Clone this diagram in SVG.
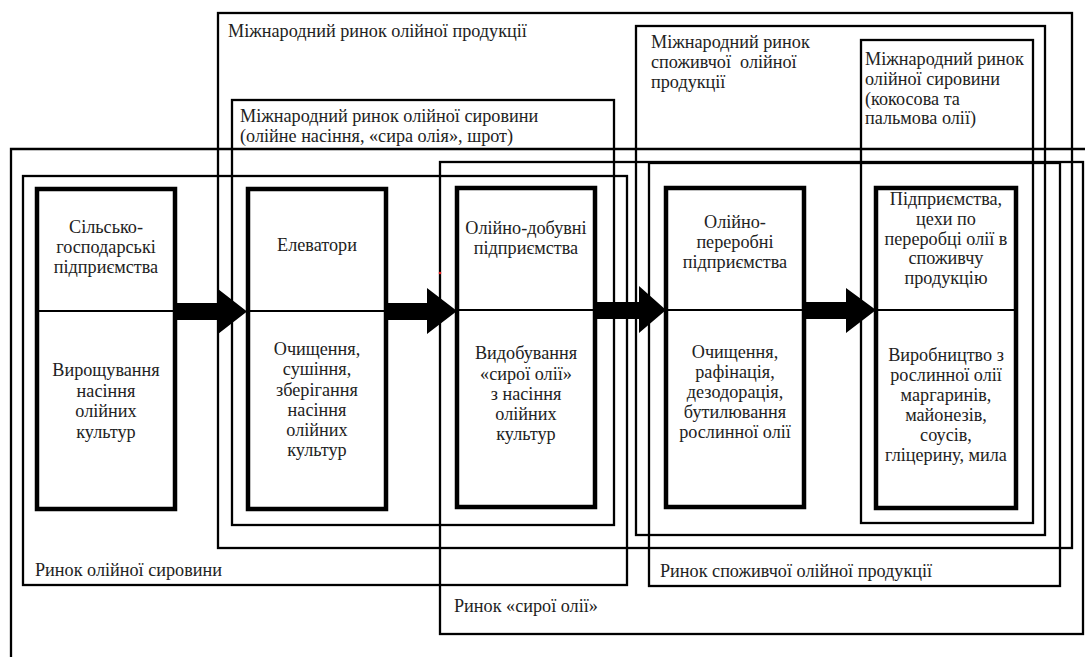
<svg xmlns="http://www.w3.org/2000/svg" width="1085" height="657" viewBox="0 0 1085 657">
<style>
.frame{fill:none;stroke:#000;stroke-width:2.3}
.box{fill:none;stroke:#000;stroke-width:4.5}
.div{stroke:#000;stroke-width:2}
.arrow{fill:#000;stroke:none}
.c{text-anchor:middle}
</style>
<rect width="1085" height="657" fill="#fff"/>
<g font-family="Liberation Serif, DejaVu Serif, serif" font-size="18.2" fill="#222">
<g id="markets">
  <g id="outer"><path class="frame" d="M1090,149 H11 V662"/></g>
  <g id="intl-oil-products"><rect class="frame" x="218" y="13" width="854" height="535"/>
    <text x="228" y="37">Міжнародний ринок олійної продукції</text></g>
  <g id="intl-raw"><rect class="frame" x="232" y="100" width="382" height="425"/>
    <text x="240" y="122">Міжнародний ринок олійної сировини</text>
    <text x="240" y="142">(олійне насіння, «сира олія», шрот)</text></g>
  <g id="intl-consumer"><rect class="frame" x="636" y="26" width="409" height="509"/>
    <text x="651" y="48">Міжнародний ринок</text>
    <text x="651" y="68">споживчої&#160; олійної</text>
    <text x="651" y="88">продукції</text></g>
  <g id="intl-coconut"><rect class="frame" x="861" y="40" width="172" height="483"/>
    <text x="865" y="65">Міжнародний ринок</text>
    <text x="865" y="85">олійної сировини</text>
    <text x="865" y="105">(кокосова та</text>
    <text x="865" y="124">пальмова олії)</text></g>
  <g id="raw-market"><rect class="frame" x="23" y="176" width="604" height="409"/>
    <text x="35" y="576">Ринок олійної сировини</text></g>
  <g id="crude-oil-market"><rect class="frame" x="440" y="162" width="643" height="472"/>
    <text x="454" y="612">Ринок «сирої олії»</text></g>
  <g id="consumer-market"><rect class="frame" x="649" y="163" width="411" height="423"/>
    <text x="660" y="577">Ринок споживчої олійної продукції</text></g>
</g>
<g id="n1">
  <rect class="box" x="37" y="189" width="138" height="320"/>
  <line class="div" x1="37" y1="311" x2="175" y2="311"/>
  <text class="c" x="106" y="233">Сільсько-</text>
  <text class="c" x="106" y="253">господарські</text>
  <text class="c" x="106" y="273">підприємства</text>
  <text class="c" x="106" y="376">Вирощування</text>
  <text class="c" x="106" y="396.5">насіння</text>
  <text class="c" x="106" y="417">олійних</text>
  <text class="c" x="106" y="437.5">культур</text>
</g>
<g id="n2">
  <rect class="box" x="248" y="189" width="138" height="320"/>
  <line class="div" x1="248" y1="311" x2="386" y2="311"/>
  <text class="c" x="317" y="251">Елеватори</text>
  <text class="c" x="317" y="355">Очищення,</text>
  <text class="c" x="317" y="375">сушіння,</text>
  <text class="c" x="317" y="395.5">зберігання</text>
  <text class="c" x="317" y="415.5">насіння</text>
  <text class="c" x="317" y="436">олійних</text>
  <text class="c" x="317" y="456">культур</text>
</g>
<g id="n3">
  <rect class="box" x="457" y="188" width="138" height="319"/>
  <line class="div" x1="457" y1="310" x2="595" y2="310"/>
  <text class="c" x="526" y="234">Олійно-добувні</text>
  <text class="c" x="526" y="254">підприємства</text>
  <text class="c" x="526" y="359">Видобування</text>
  <text class="c" x="526" y="380">«сирої олії»</text>
  <text class="c" x="526" y="400">з насіння</text>
  <text class="c" x="526" y="420">олійних</text>
  <text class="c" x="526" y="440">культур</text>
</g>
<g id="n4">
  <rect class="box" x="666" y="188" width="138" height="319"/>
  <line class="div" x1="666" y1="310" x2="804" y2="310"/>
  <text class="c" x="735" y="228">Олійно-</text>
  <text class="c" x="735" y="248">переробні</text>
  <text class="c" x="735" y="268">підприємства</text>
  <text class="c" x="735" y="358">Очищення,</text>
  <text class="c" x="735" y="378">рафінація,</text>
  <text class="c" x="735" y="398">дезодорація,</text>
  <text class="c" x="735" y="418">бутилювання</text>
  <text class="c" x="735" y="438">рослинної олії</text>
</g>
<g id="n5">
  <rect class="box" x="876" y="188" width="140" height="320"/>
  <line class="div" x1="876" y1="310" x2="1016" y2="310"/>
  <text class="c" x="946" y="205">Підприємства,</text>
  <text class="c" x="946" y="224.5">цехи по</text>
  <text class="c" x="946" y="244.5">переробці олії в</text>
  <text class="c" x="946" y="264">споживчу</text>
  <text class="c" x="946" y="283.5">продукцію</text>
  <text class="c" x="946" y="361">Виробництво з</text>
  <text class="c" x="946" y="381">рослинної олії</text>
  <text class="c" x="946" y="401">маргаринів,</text>
  <text class="c" x="946" y="421">майонезів,</text>
  <text class="c" x="946" y="441">соусів,</text>
  <text class="c" x="946" y="461">гліцерину, мила</text>
</g>
</g>
<g id="connectors">
  <polygon class="arrow" points="177,303 218,303 218,289 247,311.5 218,334 218,320 177,320"/>
  <polygon class="arrow" points="388,303 427,303 427,288 457,311 427,334 427,320 388,320"/>
  <polygon class="arrow" points="597,302 639,302 639,286 666,310 639,333 639,319 597,319"/>
  <polygon class="arrow" points="806,302 846,302 846,288 876,310 846,333 846,319 806,319"/>
</g>
<circle cx="440" cy="273" r="1.3" fill="#e22"/>
</svg>
